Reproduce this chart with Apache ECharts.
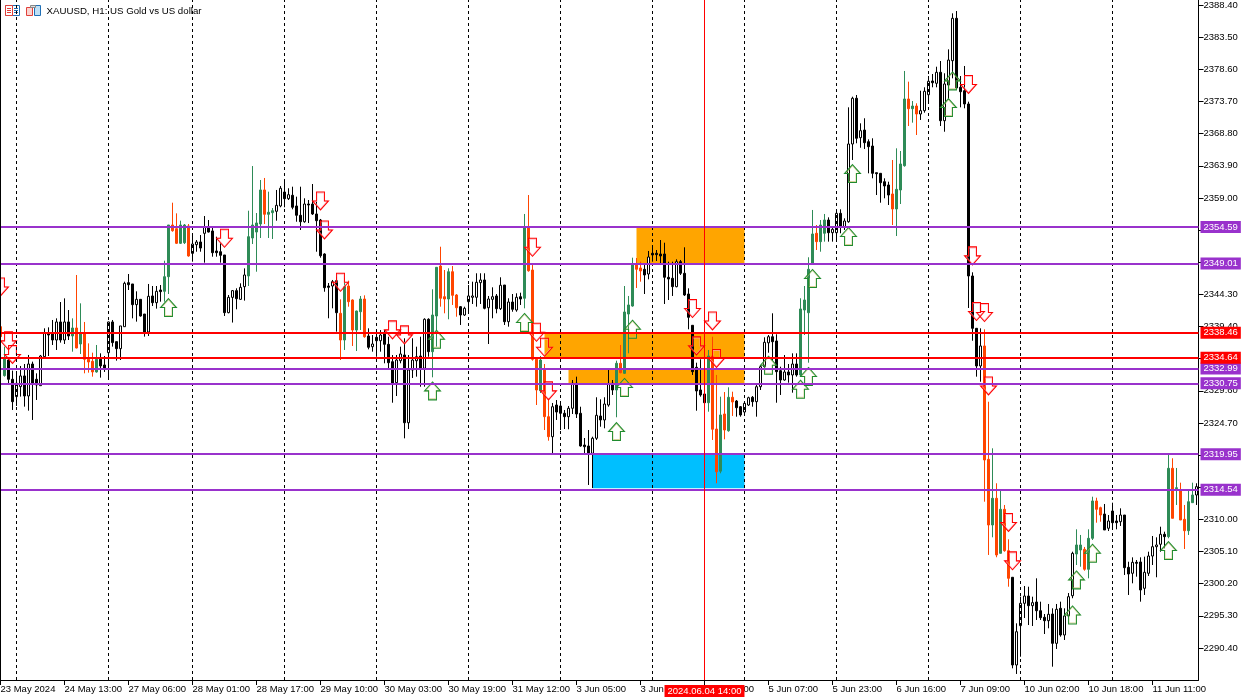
<!DOCTYPE html>
<html><head><meta charset="utf-8">
<style>html,body{margin:0;padding:0;background:#fff}#c{width:1251px;height:700px}</style>
<script src="https://cdn.jsdelivr.net/npm/echarts@6/dist/echarts.min.js"></script>
</head><body><div id="c"></div>
<script>
// [open, high, low, close] per hourly bar
const bars=[
[2339.38,2340.81,2337.35,2337.86],[2331.92,2336.34,2331.76,2334.56],[2334.30,2334.56,2330.75,2331.36],[2331.36,2332.68,2326.68,2327.95],[2328.72,2332.17,2327.29,2330.75],
[2330.24,2333.39,2328.72,2331.87],[2331.87,2333.69,2327.19,2328.82],[2328.82,2335.07,2326.58,2333.69],[2333.69,2334.05,2325.16,2330.65],[2331.36,2332.27,2328.21,2330.50],
[2330.39,2335.07,2330.39,2334.91],[2334.81,2339.13,2334.71,2338.37],[2338.37,2339.28,2334.91,2338.11],[2338.27,2340.40,2336.59,2337.35],[2337.35,2340.65,2335.83,2340.10],
[2340.10,2343.14,2336.95,2337.35],[2337.35,2343.70,2336.74,2340.10],[2340.10,2341.92,2337.35,2337.96],[2337.96,2340.65,2335.57,2339.18],[2339.18,2347.26,2336.08,2336.13],
[2336.74,2342.94,2335.22,2338.27],[2338.27,2340.10,2332.27,2334.41],[2334.41,2336.84,2332.37,2334.00],[2334.10,2335.42,2331.76,2332.48],[2332.48,2336.59,2332.37,2334.41],
[2334.41,2335.32,2331.61,2333.39],[2333.54,2334.91,2332.48,2333.08],[2335.42,2340.15,2331.26,2340.10],[2340.10,2340.40,2336.34,2336.95],[2337.10,2337.10,2334.20,2336.03],
[2336.03,2339.49,2334.30,2339.49],[2339.38,2346.24,2339.38,2345.99],[2346.09,2347.41,2344.97,2345.78],[2345.89,2345.89,2340.65,2342.74],[2342.74,2344.77,2340.15,2343.55],
[2343.55,2343.55,2340.91,2341.01],[2341.31,2341.31,2337.86,2338.57],[2338.57,2345.89,2337.96,2344.01],[2344.06,2345.58,2342.53,2343.04],[2343.04,2345.58,2342.13,2344.77],
[2344.97,2345.73,2343.19,2344.72],[2344.77,2349.44,2343.19,2347.00],[2347.00,2354.88,2344.36,2354.88],[2354.88,2358.28,2353.86,2354.01],[2354.32,2356.66,2351.98,2352.09],
[2352.09,2355.54,2351.98,2354.88],[2352.18,2355.03,2351.98,2354.88],[2354.73,2355.03,2350.05,2350.16],[2350.56,2353.61,2349.29,2351.98],[2351.88,2352.59,2350.81,2352.29],
[2352.29,2353.35,2350.81,2351.37],[2353.61,2356.25,2349.14,2354.62],[2354.42,2355.64,2353.74,2353.81],[2353.97,2354.62,2350.05,2350.66],[2350.92,2353.10,2350.05,2350.66],
[2350.81,2352.08,2349.14,2350.26],[2350.31,2350.31,2341.01,2341.52],[2341.52,2344.21,2341.42,2343.85],[2343.85,2344.97,2340.01,2344.87],[2344.87,2345.23,2342.03,2343.65],
[2343.55,2345.99,2343.45,2345.38],[2345.48,2348.27,2343.35,2347.26],[2347.11,2357.06,2345.58,2353.10],[2352.90,2363.87,2351.98,2354.88],[2353.81,2356.71,2347.76,2355.19],
[2355.03,2361.74,2352.90,2360.22],[2360.22,2362.05,2355.03,2356.51],[2356.51,2359.96,2352.90,2356.82],[2356.76,2357.47,2352.75,2357.06],[2356.97,2360.22,2355.54,2357.88],
[2357.78,2360.83,2357.58,2360.48],[2359.91,2361.85,2357.58,2358.89],[2358.89,2360.48,2358.69,2359.50],[2359.41,2360.72,2357.27,2357.58],[2357.78,2359.20,2355.38,2356.36],
[2356.36,2360.72,2354.12,2355.38],[2355.38,2358.95,2355.23,2358.08],[2358.08,2358.69,2355.18,2357.93],[2358.08,2361.13,2356.41,2356.56],[2356.56,2358.43,2350.81,2355.54],
[2355.64,2355.80,2349.90,2350.20],[2350.46,2350.57,2344.71,2345.32],[2345.58,2346.04,2340.66,2345.38],[2345.58,2346.50,2342.18,2346.24],[2346.39,2346.95,2338.62,2341.51],
[2341.42,2343.55,2334.30,2337.35],[2337.35,2346.80,2335.83,2345.48],[2345.58,2346.39,2342.43,2343.19],[2343.45,2343.55,2336.44,2338.87],[2338.87,2341.82,2335.67,2341.77],
[2341.66,2344.06,2338.87,2343.60],[2343.60,2344.16,2337.70,2337.85],[2337.96,2339.13,2335.93,2336.24],[2336.33,2338.11,2335.57,2336.74],[2337.76,2338.87,2334.80,2337.24],
[2337.24,2338.87,2335.57,2338.11],[2338.26,2338.87,2333.80,2336.69],[2336.69,2337.85,2332.78,2333.89],[2334.04,2335.06,2327.79,2330.60],[2330.84,2335.06,2328.81,2334.30],
[2334.19,2336.33,2333.80,2335.22],[2335.06,2337.61,2322.36,2324.74],[2324.74,2335.06,2323.78,2332.78],[2332.78,2337.61,2331.56,2334.30],[2334.19,2336.33,2331.76,2334.80],
[2334.91,2337.85,2330.23,2333.04],[2333.04,2340.66,2330.23,2340.51],[2340.51,2340.66,2334.80,2335.57],[2335.57,2345.08,2331.66,2341.16],[2341.01,2348.48,2336.33,2348.43],
[2348.63,2351.57,2342.43,2343.71],[2343.95,2348.02,2341.42,2343.60],[2343.60,2348.28,2340.51,2347.76],[2347.76,2348.63,2342.69,2344.16],[2344.21,2344.36,2340.90,2342.27],
[2342.43,2342.53,2339.64,2341.16],[2341.16,2342.43,2341.01,2342.18],[2343.19,2345.73,2341.31,2344.06],[2343.86,2346.24,2342.84,2344.06],[2343.86,2347.52,2342.43,2346.15],
[2346.09,2347.52,2342.84,2346.50],[2346.50,2347.52,2342.03,2342.18],[2342.27,2344.06,2336.74,2343.60],[2343.55,2345.38,2340.66,2343.95],[2344.06,2344.36,2341.42,2342.12],
[2342.12,2346.91,2341.92,2345.69],[2345.73,2345.73,2339.64,2340.14],[2340.14,2343.71,2339.38,2343.14],[2343.14,2344.36,2341.66,2342.03],[2341.92,2344.47,2341.66,2343.86],
[2343.95,2344.56,2342.69,2343.60],[2343.71,2356.56,2342.18,2354.62],[2354.53,2359.45,2347.76,2347.91],[2348.02,2348.78,2334.20,2334.41],[2334.41,2334.45,2327.44,2329.73],
[2329.62,2334.91,2329.27,2334.30],[2332.78,2333.69,2323.63,2325.66],[2325.66,2328.51,2322.00,2322.61],[2322.61,2327.75,2320.08,2327.18],[2327.44,2328.20,2325.16,2326.37],
[2327.29,2327.90,2323.63,2326.18],[2326.18,2326.68,2323.78,2325.66],[2325.66,2327.29,2323.74,2326.94],[2326.94,2331.25,2326.07,2330.75],[2330.75,2331.76,2325.46,2326.07],
[2326.18,2327.18,2321.08,2321.19],[2321.34,2322.41,2320.12,2321.08],[2321.19,2323.63,2315.25,2320.08],[2320.08,2322.61,2314.79,2322.37],[2322.37,2328.62,2322.11,2325.87],
[2325.76,2328.31,2324.13,2325.16],[2325.16,2328.62,2323.89,2327.59],[2327.44,2332.78,2327.18,2330.64],[2330.75,2331.25,2328.97,2329.73],[2329.73,2334.20,2325.57,2333.80],
[2333.80,2336.59,2332.27,2332.37],[2332.27,2345.58,2332.17,2341.62],[2341.31,2344.06,2335.32,2342.69],[2342.53,2349.90,2342.43,2348.89],[2348.89,2349.85,2345.28,2348.13],
[2348.33,2349.29,2346.24,2347.87],[2348.13,2349.09,2344.36,2347.26],[2347.41,2350.92,2346.60,2350.00],[2350.57,2351.83,2349.29,2350.31],[2350.57,2351.07,2349.39,2350.36],
[2350.46,2352.59,2348.78,2350.16],[2350.46,2352.18,2342.84,2346.91],[2346.91,2349.29,2343.45,2346.65],[2346.76,2349.29,2344.06,2345.48],[2345.48,2349.65,2345.38,2349.29],
[2349.29,2349.55,2347.26,2347.52],[2347.52,2351.48,2344.06,2344.21],[2344.36,2345.23,2338.98,2340.81],[2339.59,2339.59,2332.02,2332.52],[2333.19,2333.89,2326.57,2329.58],
[2329.73,2334.41,2328.71,2328.97],[2329.12,2332.02,2327.70,2327.79],[2327.79,2335.83,2326.42,2334.91],[2334.91,2337.85,2322.11,2323.74],[2323.78,2332.02,2315.51,2317.27],
[2317.36,2328.71,2317.03,2325.92],[2326.07,2329.42,2322.21,2323.63],[2323.52,2330.14,2323.37,2328.62],[2328.62,2329.47,2325.77,2327.90],[2328.05,2328.20,2325.66,2327.03],
[2327.18,2327.29,2325.66,2325.92],[2326.37,2327.94,2326.18,2327.70],[2327.44,2328.71,2327.29,2328.55],[2328.62,2328.81,2327.18,2327.95],[2327.95,2330.75,2325.66,2330.23],
[2330.23,2333.54,2329.73,2333.28],[2333.28,2337.76,2333.04,2337.00],[2336.92,2338.11,2335.41,2337.85],[2337.85,2341.42,2334.20,2337.09],[2337.20,2338.22,2327.79,2332.52],
[2332.67,2333.28,2328.97,2331.25],[2331.25,2335.06,2331.15,2332.47],[2332.47,2333.69,2330.84,2332.02],[2332.02,2335.32,2329.32,2333.69],[2333.69,2335.32,2331.76,2332.02],
[2332.02,2343.71,2331.76,2342.08],[2341.92,2345.58,2338.11,2343.45],[2341.51,2349.96,2333.89,2348.13],[2349.04,2357.17,2349.04,2353.51],[2353.62,2354.88,2351.07,2352.34],
[2352.34,2355.64,2350.81,2354.88],[2353.62,2356.56,2352.34,2355.64],[2355.64,2356.05,2352.34,2353.71],[2353.71,2354.62,2352.34,2354.23],[2353.71,2357.27,2352.34,2356.66],
[2356.66,2357.27,2353.62,2354.62],[2354.62,2355.90,2354.12,2355.49],[2355.38,2372.82,2355.23,2367.23],[2367.23,2374.44,2364.79,2374.20],[2374.20,2374.70,2367.34,2368.10],
[2368.19,2370.38,2366.66,2369.26],[2369.36,2371.15,2366.47,2367.43],[2367.58,2367.94,2362.76,2366.82],[2366.92,2368.10,2362.00,2362.76],[2362.85,2362.85,2359.45,2362.70],
[2362.76,2362.81,2358.28,2361.33],[2361.48,2362.00,2358.95,2360.83],[2360.98,2361.48,2357.93,2359.45],[2359.61,2364.79,2354.88,2357.32],[2357.32,2366.57,2353.20,2360.32],
[2360.22,2366.16,2358.08,2364.18],[2363.92,2378.36,2363.77,2374.09],[2374.09,2376.73,2369.97,2372.61],[2372.61,2373.78,2370.48,2373.02],[2373.02,2373.43,2368.60,2371.80],
[2371.80,2375.35,2370.89,2372.31],[2372.31,2375.87,2372.00,2375.26],[2374.74,2377.59,2373.52,2376.79],[2376.83,2377.90,2375.87,2376.57],[2376.48,2379.01,2375.87,2378.16],
[2378.16,2379.88,2369.97,2370.78],[2370.78,2378.01,2369.10,2376.38],[2376.22,2381.66,2373.94,2380.03],[2379.93,2387.15,2377.24,2386.39],[2386.39,2387.50,2375.72,2375.77],
[2375.87,2377.59,2372.82,2375.20],[2375.35,2379.12,2372.67,2373.33],[2373.33,2373.68,2342.23,2347.11],[2347.11,2347.67,2337.24,2339.13],[2339.13,2339.18,2331.76,2333.39],
[2333.39,2339.13,2330.99,2336.44],[2336.44,2338.98,2312.70,2319.06],[2319.16,2327.94,2304.58,2309.15],[2309.15,2320.84,2307.27,2313.22],[2313.22,2315.51,2304.23,2304.58],
[2304.83,2314.38,2304.83,2311.54],[2311.54,2312.20,2305.08,2305.23],[2305.23,2306.97,2299.74,2301.02],[2301.18,2301.22,2287.30,2287.81],[2287.81,2294.16,2286.44,2292.88],
[2293.80,2298.22,2289.07,2297.21],[2297.21,2299.85,2294.97,2298.32],[2298.32,2299.74,2293.90,2296.85],[2296.85,2298.22,2293.75,2297.31],[2297.41,2301.02,2294.67,2296.08],
[2296.08,2297.46,2294.67,2295.02],[2295.08,2295.58,2292.53,2294.56],[2294.56,2297.11,2293.40,2295.54],[2295.58,2296.45,2287.55,2291.11],[2291.11,2297.11,2290.25,2296.30],
[2296.45,2297.46,2292.12,2292.38],[2292.38,2296.45,2291.62,2295.28],[2295.28,2298.78,2295.17,2298.22],[2298.37,2305.08,2297.98,2304.83],[2304.73,2308.49,2303.05,2306.10],
[2305.34,2307.63,2302.79,2306.10],[2305.44,2305.80,2302.18,2302.40],[2302.40,2308.49,2301.02,2307.12],[2307.12,2313.46,2306.86,2312.81],[2312.81,2313.31,2309.50,2311.54],
[2311.79,2311.94,2309.65,2310.67],[2310.82,2312.35,2308.39,2308.39],[2308.65,2310.67,2308.23,2309.76],[2311.28,2312.55,2308.65,2309.50],[2309.76,2310.67,2308.49,2309.50],
[2309.65,2311.69,2309.00,2310.67],[2310.67,2310.67,2301.53,2302.64],[2302.70,2303.55,2298.48,2301.68],[2301.79,2304.22,2300.26,2303.46],[2303.46,2303.81,2301.27,2303.31],
[2303.51,2304.22,2297.46,2299.24],[2299.50,2304.32,2298.48,2301.94],[2301.79,2305.08,2301.38,2304.42],[2304.42,2307.47,2303.05,2305.84],[2305.84,2307.27,2301.18,2306.10],
[2306.21,2308.89,2305.08,2307.73],[2307.73,2308.13,2305.60,2307.37],[2307.37,2319.82,2307.12,2317.79],[2317.79,2319.32,2310.17,2310.17],[2314.69,2317.84,2312.20,2314.83],
[2314.48,2315.60,2309.91,2309.91],[2310.02,2312.20,2305.49,2308.28],[2308.28,2314.48,2307.63,2312.70],[2312.55,2315.60,2312.50,2313.72],[2313.72,2315.51,2312.20,2314.99]];
// W hollow, B solid black, G green, O orange
const barKinds=("OGBBWWBWBB"+"WWBBWBWBGO"+"GOOOGBBWBB"+"WWBBWBBWBW"+"BGGOOGGOWW"+"BWBBBBBWWB"+"WWGGGGOGGW"+"WBWBBBWBBB"+"BBBWBOGOOG"+"GOBWBWBBBW"+
"WBWWWBWBGG"+"OOGOOBWWWW"+"WBWWBWBWBW"+"BGOOOGOOWB"+"BBWWBBBBWW"+"BWWBGOGGGO"+"OBWBBBBBBW"+"BBBBBBBGOO"+"GOGOBBWWBW"+"WWWBBBWBWB"+
"GGGGOGGBWW"+"BWWWBWBBBB"+"BBBOGGGOGO"+"WWWBWBWWWB"+"BBBBBWOOGO"+"GOOBWWWBWB"+"BBWBWBWWWG"+"GOGGOOBWBB"+"WBBWBBWWWW"+"WBGOGOOGGW").split("");
const axisLabelByBar={0:"23 May 2024",16:"24 May 13:00",32:"27 May 06:00",48:"28 May 01:00",64:"28 May 17:00",80:"29 May 10:00",96:"30 May 03:00",112:"30 May 19:00",128:"31 May 12:00",144:"3 Jun 05:00",160:"3 Jun 21:00",176:"4 Jun 14:00",192:"5 Jun 07:00",208:"5 Jun 23:00",224:"6 Jun 16:00",240:"7 Jun 09:00",256:"10 Jun 02:00",272:"10 Jun 18:00",288:"11 Jun 11:00"};
const priceTicks=[2290.40,2295.30,2300.20,2305.10,2310.00,2314.90,2319.80,2324.70,2329.60,2334.50,2339.40,2344.30,2349.20,2354.10,2359.00,2363.90,2368.80,2373.70,2378.60,2383.50,2388.40];
const daySeparators=[4,27,48,71,94,117,140,163,186,209,232,255,278];
const purpleLevels=[2354.59,2349.01,2332.99,2330.75,2319.95,2314.54];
const redLevels=[2338.46,2334.64];
const sellArrows=[[0,2345.43],[2,2337.22],[3,2335.14],[56,2352.85],[80,2358.54],[81,2354.13],[85,2346.15],[98,2338.89],[101,2338.13],[133,2351.48],[134,2338.52],[136,2336.24],[137,2329.59],[173,2342.15],[178,2340.26],[174,2336.45],[179,2334.53],[242,2376.30],[243,2350.17],[244,2341.69],[246,2341.54],[247,2330.35],[252,2309.53],[253,2303.68]];
const buyArrows=[[42,2342.30],[109,2337.47],[108,2329.59],[131,2340.02],[154,2323.40],[156,2330.11],[158,2339.00],[192,2333.51],[200,2329.85],[202,2331.79],[203,2346.73],[212,2353.13],[213,2362.73],[237,2372.79],[238,2376.85],[268,2295.44],[269,2300.78],[273,2304.85],[292,2305.26]];
// [first bar, last bar, top price, bottom price]
const orangeZones=[[159,186,2354.59,2349.01],[136,186,2338.46,2334.64],[142,186,2332.99,2330.75]];
const blueZones=[[148,186,2319.95,2314.74]];
const cursorBar=176, cursorLabel="2024.06.04 14:00";

const STY={W:{color:"#fff",color0:"#fff",borderColor:"#000",borderColor0:"#000"},
 B:{color:"#000",color0:"#000",borderColor:"#000",borderColor0:"#000"},
 G:{color:"#2E8B57",color0:"#2E8B57",borderColor:"#2E8B57",borderColor0:"#2E8B57"},
 O:{color:"#FF4500",color0:"#FF4500",borderColor:"#FF4500",borderColor0:"#FF4500"}};
const cats=bars.map((_,i)=>String(i));
const candle=bars.map((b,i)=>({value:[b[0],b[3],b[2],b[1]],itemStyle:STY[barKinds[i]]}));
const FONT='"Liberation Sans"';
const tag=(v,c)=>({yAxis:v,lineStyle:{color:c,width:2,type:"solid"},
  label:{show:true,position:"end",distance:2,formatter:v.toFixed(2),color:"#fff",backgroundColor:c,fontFamily:FONT,fontSize:9.5,padding:[1,3,0,3],lineHeight:11,align:"left"}});
const ARROW_D="path://M4,0 H12 V9 H16 L8,18 L0,9 H4 Z";
const ARROW_U="path://M8,0 L16,9 H12 V18 H4 V9 H0 Z";
const arrowSeries=(name,data,path,color,inner)=>[
 {name:name+"i",type:"scatter",z:3,data,symbol:path,symbolSize:[14,16],silent:true,itemStyle:{color:"rgba(0,0,0,0)",borderColor:inner,borderWidth:1,opacity:.7}},
 {name,type:"scatter",z:3,data,symbol:path,symbolSize:[16,18],silent:true,itemStyle:{color:"rgba(0,0,0,0)",borderColor:color,borderWidth:1,opacity:1}}];
const zone=(z,c)=>[{xAxis:z[0],yAxis:z[2],itemStyle:{color:c,opacity:1}},{xAxis:z[1],yAxis:z[3]}];

const chart=echarts.init(document.getElementById("c"),null,{renderer:"canvas"});
chart.setOption({animation:false,backgroundColor:"#fff",
 title:{text:"XAUUSD, H1: US Gold vs US dollar",left:46.5,top:6,padding:0,textStyle:{fontFamily:FONT,fontSize:9.7,fontWeight:"normal",color:"#000"}},
 grid:{left:-1.5,top:0,width:1200,height:680,containLabel:false,outerBoundsMode:"none"},
 xAxis:{type:"category",data:cats,boundaryGap:true,
  axisLine:{show:true,lineStyle:{color:"#000",width:1}},
  axisTick:{show:true,alignWithLabel:true,length:5,interval:i=>i%16===0,lineStyle:{color:"#000"}},
  axisLabel:{show:true,interval:i=>i%16===0,formatter:(v,i)=>axisLabelByBar[i]||"",align:"left",margin:4,color:"#000",fontFamily:FONT,fontSize:9.5,hideOverlap:false,showMinLabel:true,showMaxLabel:true},
  splitLine:{show:false}},
 yAxis:{type:"value",position:"right",min:2285.52,max:2389.18,scale:true,
  axisLine:{show:true,lineStyle:{color:"#000",width:1}},
  axisTick:{show:true,length:5,inside:false,customValues:priceTicks,lineStyle:{color:"#000"}},
  axisLabel:{show:true,customValues:priceTicks,formatter:v=>v.toFixed(2),margin:5,color:"#000",fontFamily:FONT,fontSize:9.5,padding:[5,0,0,0]},
  splitLine:{show:false}},
 series:[
  {name:"XAUUSD",type:"candlestick",z:2,barWidth:2,clip:true,data:candle,
   markArea:{silent:true,z:1,data:[...orangeZones.map(z=>zone(z,"#FFA500")),...blueZones.map(z=>zone(z,"#00BFFF"))]},
   markLine:{silent:true,z:5,symbol:"none",animation:false,precision:2,
    data:[...daySeparators.map(k=>({xAxis:k,lineStyle:{color:"#000",width:1,type:[3,3]},label:{show:false}})),
     ...purpleLevels.map(v=>tag(v,"#9932CC")),...redLevels.map(v=>tag(v,"#FF0000")),
     {xAxis:cursorBar,lineStyle:{color:"#FF0000",width:1,type:"solid",opacity:1},
      label:{show:true,position:"start",distance:5,formatter:cursorLabel,color:"#fff",backgroundColor:"#FF0000",fontFamily:FONT,fontSize:9.5,padding:[1,3,0,3],lineHeight:11}}]}},
  ...arrowSeries("sell",sellArrows,ARROW_D,"#FF0000","#FF9FB0"),
  ...arrowSeries("buy",buyArrows,ARROW_U,"#1E8B2E","#C8C070")
 ],
 graphic:[
  {type:"rect",shape:{x:0,y:0,width:1,height:680},style:{fill:"#000"},z:20},
  {type:"group",left:5,top:5,z:20,children:[
    {type:"rect",shape:{x:.5,y:.5,width:14,height:10},style:{fill:"#fff",stroke:"#1F6FB5",lineWidth:1}},
    {type:"rect",shape:{x:.5,y:.5,width:7,height:10},style:{fill:"#fff",stroke:"#E0403A",lineWidth:1}},
    {type:"rect",shape:{x:2,y:3,width:4,height:1},style:{fill:"#E0403A"}},{type:"rect",shape:{x:2,y:5,width:4,height:1},style:{fill:"#E0403A"}},{type:"rect",shape:{x:2,y:7,width:4,height:1},style:{fill:"#E0403A"}},
    {type:"rect",shape:{x:9,y:3,width:4,height:1},style:{fill:"#1F6FB5"}},{type:"rect",shape:{x:9,y:5,width:4,height:1},style:{fill:"#1F6FB5"}},{type:"rect",shape:{x:9,y:7,width:4,height:1},style:{fill:"#1F6FB5"}}]},
  {type:"group",left:26,top:5,z:20,children:[
    {type:"rect",shape:{x:.5,y:2.5,width:6,height:8},style:{fill:"#FAD4D0",stroke:"#E0403A",lineWidth:1}},
    {type:"rect",shape:{x:8.5,y:.5,width:6,height:10},style:{fill:"#BFE0F5",stroke:"#1F6FB5",lineWidth:1}},
    {type:"rect",shape:{x:4.5,y:.5,width:5,height:2},style:{fill:"#ddd",stroke:"#888",lineWidth:1}}]}
 ]
});
</script></body></html>
